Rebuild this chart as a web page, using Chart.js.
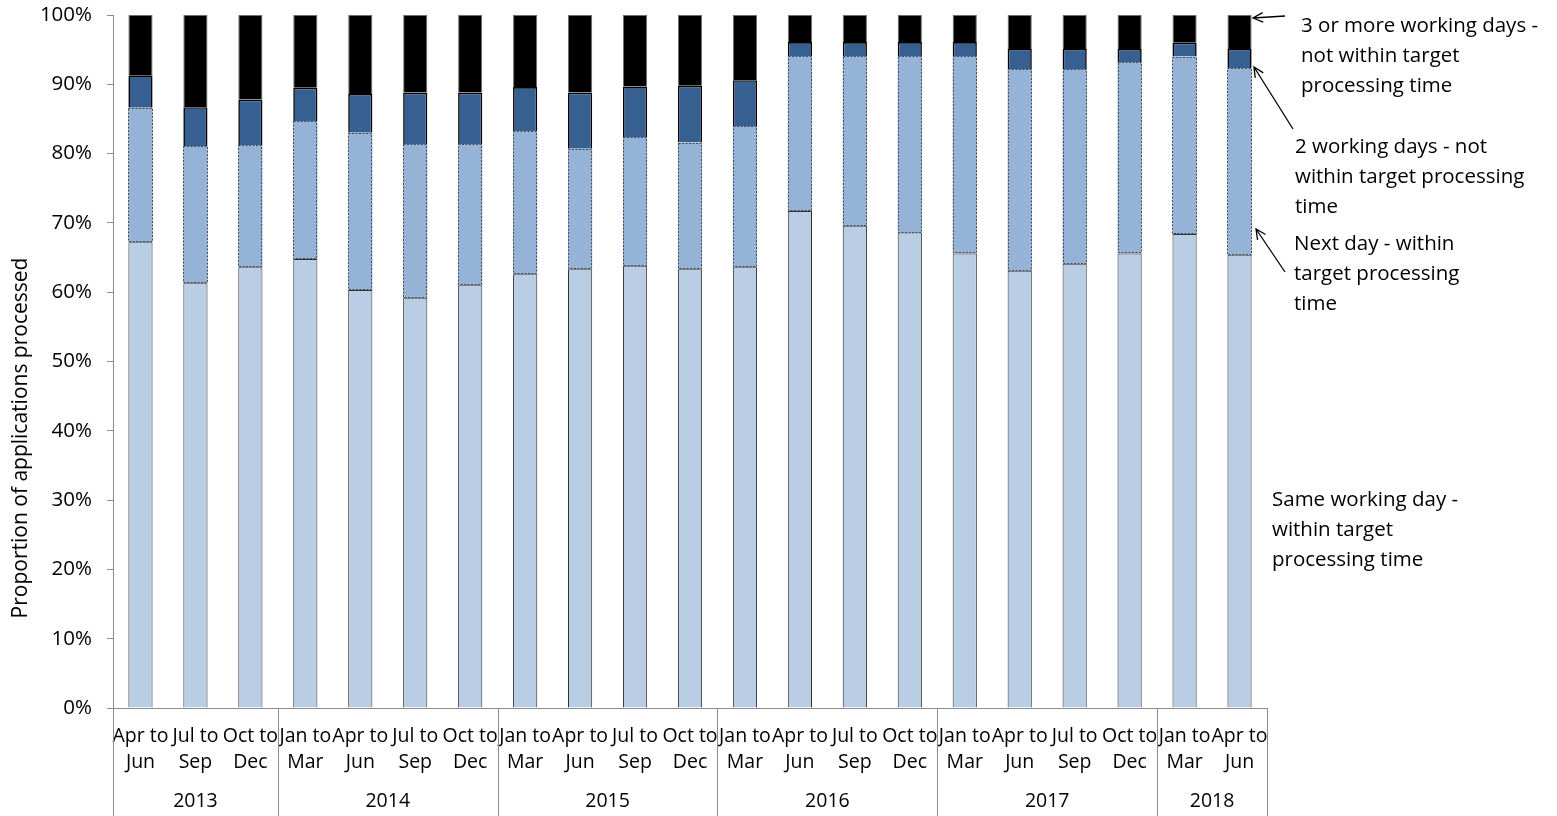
<!DOCTYPE html>
<html>
<head>
<meta charset="utf-8">
<script src="https://cdn.jsdelivr.net/npm/chart.js@4/dist/chart.umd.min.js"></script>
<style>
  html, body { margin: 0; padding: 0; background: #fff; }
  #wrap { width: 1557px; height: 816px; }
</style>
</head>
<body>
<div id="wrap"><canvas id="c" width="1557" height="816"></canvas></div>
<script>
// Quarter labels (two lines each) and the year each quarter belongs to
const quarterTop = ['Apr to','Jul to','Oct to','Jan to','Apr to','Jul to','Oct to','Jan to','Apr to','Jul to','Oct to','Jan to','Apr to','Jul to','Oct to','Jan to','Apr to','Jul to','Oct to','Jan to','Apr to'];
const quarterBottom = ['Jun','Sep','Dec','Mar','Jun','Sep','Dec','Mar','Jun','Sep','Dec','Mar','Jun','Sep','Dec','Mar','Jun','Sep','Dec','Mar','Jun'];
const years = ['2013','2014','2015','2016','2017','2018'];
const quartersPerYear = [3, 4, 4, 4, 4, 2];

// Share of applications processed (%)
const sameDay = [67.2,61.3,63.6,64.8,60.3,59.2,61.0,62.6,63.3,63.8,63.3,63.6,71.7,69.6,68.6,65.6,63.1,64.1,65.6,68.4,65.4];
const nextDay = [19.4,19.8,17.6,19.9,22.7,22.2,20.4,20.6,17.4,18.6,18.3,20.4,22.4,24.5,25.5,28.5,29.1,28.1,27.6,25.6,26.9];
const twoDays = [4.7,5.6,6.6,4.8,5.6,7.4,7.4,6.4,8.1,7.3,8.2,6.6,2.0,2.0,2.0,2.0,2.9,2.9,1.9,2.0,2.8];
const threePlusDays = [8.7,13.3,12.2,10.5,11.4,11.2,11.2,10.4,11.2,10.3,10.2,9.4,3.9,3.9,3.9,3.9,4.9,4.9,4.9,4.0,4.9];

const seriesNames = [
  'Same working day - within target processing time',
  'Next day - within target processing time',
  '2 working days - not within target processing time',
  '3 or more working days - not within target processing time'
];

const FONT = '"Open Sans", "DejaVu Sans", sans-serif';
const labels = quarterTop.map((t, i) => t + ' ' + quarterBottom[i]);

// Dotted outline for the "next day" segments, drawn over the library's bars
const dottedOutline = {
  id: 'dottedOutline',
  afterDatasetsDraw(chart) {
    const ctx = chart.ctx;
    const meta = chart.getDatasetMeta(1);
    ctx.save();
    ctx.strokeStyle = '#4a4a4a';
    ctx.lineWidth = 1;
    ctx.setLineDash([2, 1.5]);
    meta.data.forEach(bar => {
      const p = bar.getProps(['x', 'y', 'base', 'width'], true);
      const l = Math.round(p.x - p.width / 2) + 0.5;
      const r = Math.round(p.x + p.width / 2) - 0.5;
      ctx.strokeRect(l, Math.round(p.y) + 0.5, r - l, Math.round(p.base) - Math.round(p.y) - 1);
    });
    ctx.restore();
  }
};

// Two-level category axis, y title and the right-hand series notes
const decorations = {
  id: 'decorations',
  afterDraw(chart) {
    const ctx = chart.ctx;
    const xs = chart.scales.x;
    const area = chart.chartArea;
    const step = xs.getPixelForValue(1) - xs.getPixelForValue(0);
    ctx.save();
    ctx.fillStyle = '#000';
    ctx.textAlign = 'center';
    ctx.textBaseline = 'middle';
    ctx.font = '19.5px ' + FONT;
    quarterTop.forEach((t, i) => {
      const x = xs.getPixelForValue(i);
      ctx.fillText(t, x, area.bottom + 28);
      ctx.fillText(quarterBottom[i], x, area.bottom + 54);
    });

    // year groups with separators
    ctx.strokeStyle = '#8c8c8c';
    ctx.lineWidth = 1;
    let idx = 0;
    const edges = [];
    quartersPerYear.forEach((n, g) => {
      const left = xs.getPixelForValue(idx) - step / 2;
      const right = xs.getPixelForValue(idx + n - 1) + step / 2;
      edges.push(left);
      if (g === quartersPerYear.length - 1) edges.push(right);
      ctx.fillText(years[g], (left + right) / 2, area.bottom + 93);
      idx += n;
    });
    edges.forEach(x => {
      const px = Math.round(x) + 0.5;
      ctx.beginPath();
      ctx.moveTo(px, area.bottom);
      ctx.lineTo(px, 816);
      ctx.stroke();
    });

    // y-axis title
    ctx.save();
    ctx.translate(21, 438);
    ctx.rotate(-Math.PI / 2);
    ctx.font = '21px ' + FONT;
    ctx.fillText('Proportion of applications processed', 0, 0);
    ctx.restore();

    // notes on the right
    ctx.textAlign = 'left';
    ctx.font = '20.5px ' + FONT;
    const notes = [
      { x: 1301, y: 26, lines: ['3 or more working days -', 'not within target', 'processing time'] },
      { x: 1295, y: 147, lines: ['2 working days - not', 'within target processing', 'time'] },
      { x: 1294, y: 244, lines: ['Next day - within', 'target processing', 'time'] },
      { x: 1272, y: 500, lines: ['Same working day -', 'within target', 'processing time'] }
    ];
    notes.forEach(n => n.lines.forEach((s, k) => ctx.fillText(s, n.x, n.y + k * 30)));

    // arrows pointing at the last bar's segments
    const arrows = [
      [1285, 16, 1253, 18],
      [1293, 129, 1254, 67],
      [1285, 272, 1256, 229]
    ];
    ctx.strokeStyle = '#000';
    ctx.lineWidth = 1.3;
    arrows.forEach(([x1, y1, x2, y2]) => {
      const a = Math.atan2(y2 - y1, x2 - x1);
      ctx.beginPath();
      ctx.moveTo(x1, y1);
      ctx.lineTo(x2, y2);
      const h = 11;
      ctx.moveTo(x2 - h * Math.cos(a - 0.45), y2 - h * Math.sin(a - 0.45));
      ctx.lineTo(x2, y2);
      ctx.lineTo(x2 - h * Math.cos(a + 0.45), y2 - h * Math.sin(a + 0.45));
      ctx.stroke();
    });
    ctx.restore();
  }
};

new Chart(document.getElementById('c'), {
  type: 'bar',
  data: {
    labels: labels,
    datasets: [
      { label: seriesNames[0], data: sameDay, backgroundColor: '#B9CDE5', borderColor: '#333333', borderWidth: 1 },
      { label: seriesNames[1], data: nextDay, backgroundColor: '#95B3D7', borderWidth: 0 },
      { label: seriesNames[2], data: twoDays, backgroundColor: '#366092', borderColor: '#000000', borderWidth: 1.6 },
      { label: seriesNames[3], data: threePlusDays, backgroundColor: '#000000', borderColor: '#6e6e6e', borderWidth: 1 }
    ]
  },
  options: {
    responsive: false,
    animation: false,
    devicePixelRatio: 1,
    layout: { padding: { top: 15, right: 290, left: 0, bottom: 0 } },
    datasets: { bar: { categoryPercentage: 1, barPercentage: 0.44 } },
    plugins: { legend: { display: false }, tooltip: { enabled: false } },
    scales: {
      x: {
        stacked: true,
        grid: { display: false },
        border: { display: true, color: '#8c8c8c' },
        ticks: { display: false },
        afterFit(scale) {
          scale.height = 108;
          scale.paddingLeft = 0;
          scale.paddingRight = 0;
        }
      },
      y: {
        stacked: true,
        min: 0,
        max: 100,
        ticks: {
          stepSize: 10,
          padding: 15,
          color: '#000',
          font: { family: FONT, size: 20.5 },
          callback: v => v + '%'
        },
        grid: { drawOnChartArea: false, drawTicks: true, tickLength: 6, color: '#8c8c8c' },
        border: { color: '#8c8c8c' },
        afterFit(scale) {
          scale.width = 113;
          scale.paddingTop = 0;
          scale.paddingBottom = 0;
        }
      }
    }
  },
  plugins: [dottedOutline, decorations]
});
</script>
</body>
</html>
